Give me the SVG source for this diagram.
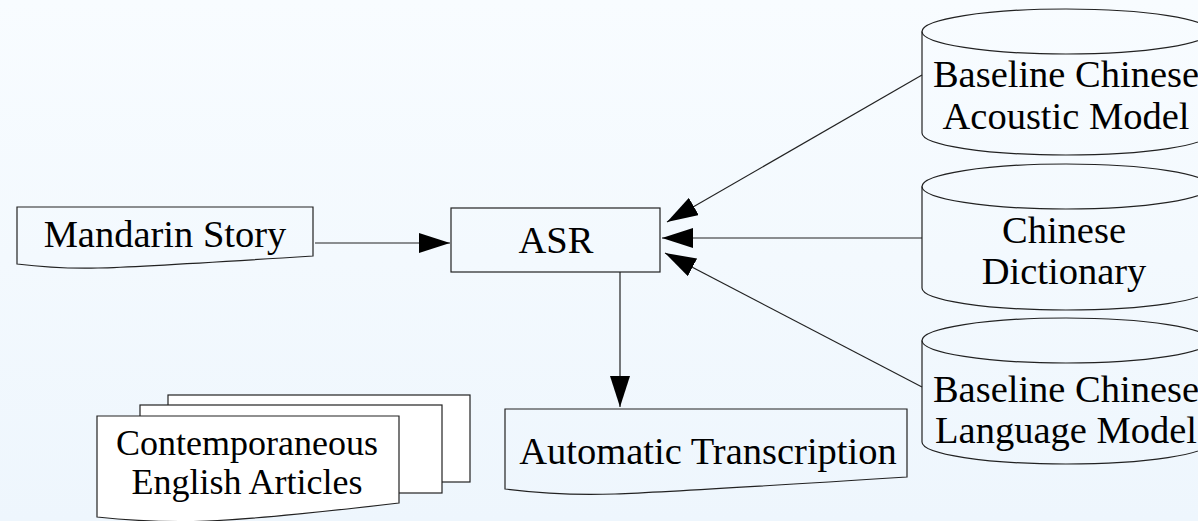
<svg xmlns="http://www.w3.org/2000/svg" width="1198" height="521" viewBox="0 0 1198 521">
  <style>
    .shape { fill: none; stroke: #222; stroke-width: 1.2; }
    .sheet { fill: #ffffff; stroke: #222; stroke-width: 1.2; }
    .edge { fill: none; stroke: #222; stroke-width: 1.2; marker-end: url(#arrow); }
    .label { font-family: "Liberation Serif", "Times New Roman", serif; font-size: 38.5px; fill: #000; text-anchor: middle; }
    .tight { font-size: 36px; }
  </style>
  <defs>
    <linearGradient id="bg" x1="0" y1="0" x2="0" y2="1">
      <stop offset="0" stop-color="#f8fcff"/>
      <stop offset="1" stop-color="#eef6fd"/>
    </linearGradient>
    <marker id="arrow" markerUnits="userSpaceOnUse" viewBox="0 0 31 20" markerWidth="31" markerHeight="20" refX="31" refY="10" orient="auto">
      <path d="M0,0 L31,10 L0,20 Z" fill="#000"/>
    </marker>
  </defs>

  <rect x="0" y="0" width="1198" height="521" fill="url(#bg)"/>

  <!-- connectors -->
  <g id="connectors">
    <line class="edge" x1="315" y1="243" x2="450" y2="243"/>
    <line class="edge" x1="922" y1="75" x2="667" y2="222"/>
    <line class="edge" x1="922" y1="238" x2="662" y2="238"/>
    <line class="edge" x1="922" y1="387" x2="665" y2="253"/>
    <line class="edge" x1="620" y1="272" x2="620" y2="407"/>
  </g>

  <!-- input document -->
  <g id="mandarin-story">
    <path class="shape" d="M17,264 Q58,269 98,268 T313,256 V207 H17 Z"/>
    <text class="label" x="165" y="247">Mandarin Story</text>
  </g>

  <!-- recognizer -->
  <g id="asr">
    <rect class="shape" x="451" y="208" width="209" height="64"/>
    <text class="label" x="556" y="253">ASR</text>
  </g>

  <!-- output document -->
  <g id="automatic-transcription">
    <path class="shape" d="M505,489 Q560,496 615,494 T907,477 V409 H505 Z"/>
    <text class="label" x="708" y="464">Automatic Transcription</text>
  </g>

  <!-- stacked documents -->
  <g id="english-articles">
    <rect class="sheet" x="168" y="395" width="302" height="87"/>
    <rect class="sheet" x="140" y="405" width="302" height="88"/>
    <path class="sheet" d="M97,517 Q152,523 207,521 T399,503 V416 H97 Z"/>
    <text class="label tight"><tspan x="247" y="455">Contemporaneous</tspan><tspan x="247" y="494">English Articles</tspan></text>
  </g>

  <!-- data stores -->
  <g id="acoustic-model">
    <path class="shape" d="M922,31.5 V133 A144,22 0 0 0 1210,133 V31.5"/>
    <ellipse class="shape" cx="1066" cy="31.5" rx="144" ry="22.5"/>
    <text class="label"><tspan x="1066" y="87">Baseline Chinese</tspan><tspan x="1066" y="129">Acoustic Model</tspan></text>
  </g>

  <g id="dictionary">
    <path class="shape" d="M922,186.5 V288 A144,22 0 0 0 1210,288 V186.5"/>
    <ellipse class="shape" cx="1066" cy="186.5" rx="144" ry="22.5"/>
    <text class="label"><tspan x="1064" y="243">Chinese</tspan><tspan x="1064" y="284">Dictionary</tspan></text>
  </g>

  <g id="language-model">
    <path class="shape" d="M922,340.5 V442 A144,22 0 0 0 1210,442 V340.5"/>
    <ellipse class="shape" cx="1066" cy="340.5" rx="144" ry="22.5"/>
    <text class="label"><tspan x="1066" y="402">Baseline Chinese</tspan><tspan x="1066" y="443">Language Model</tspan></text>
  </g>
</svg>
